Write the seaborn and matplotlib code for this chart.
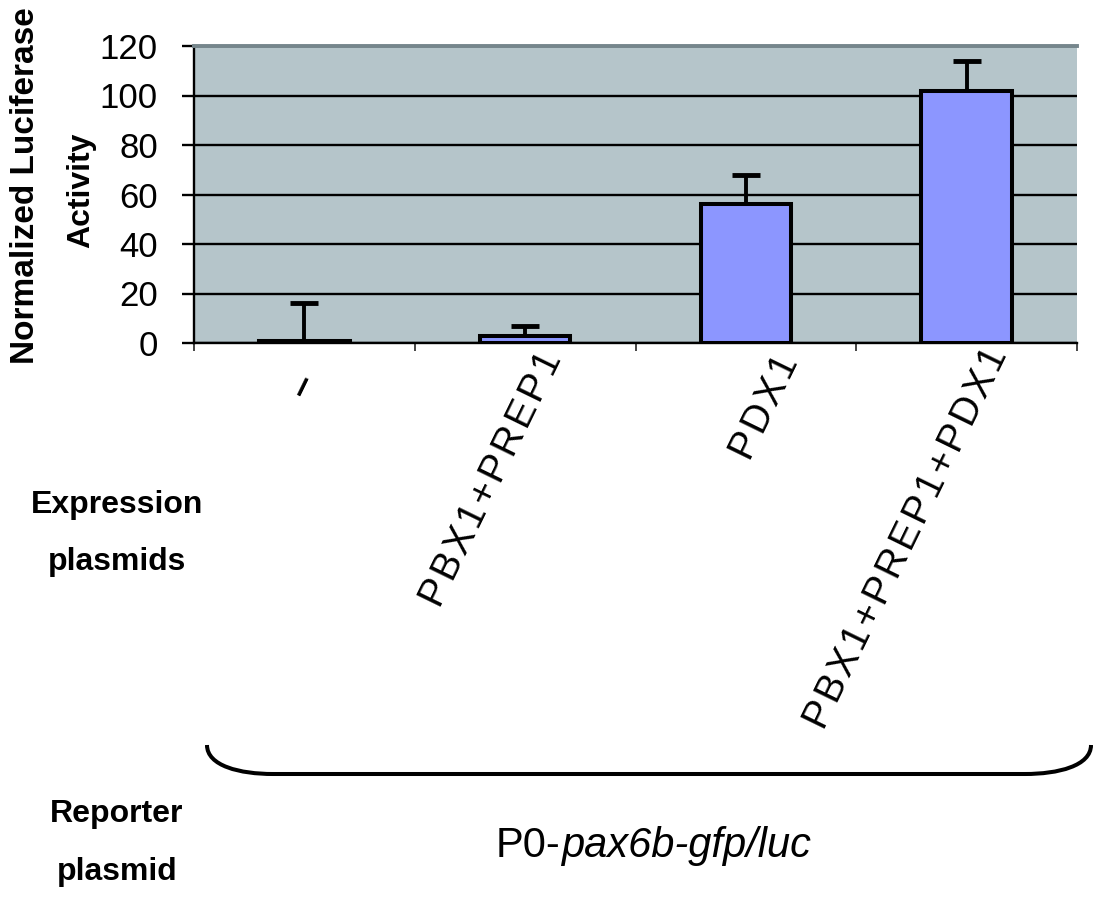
import numpy as np
import pandas as pd
import matplotlib
matplotlib.use("Agg")
import matplotlib.pyplot as plt
import matplotlib.transforms as mtransforms
from matplotlib.path import Path
from matplotlib.patches import PathPatch
import seaborn as sns

# data
conditions = ["-", "PBX1+PREP1", "PDX1", "PBX1+PREP1+PDX1"]
activity = [1, 3, 56, 102]
activity_err = [15, 4, 12, 12]
y_ticks = [0, 20, 40, 60, 80, 100, 120]

df = pd.DataFrame({"condition": conditions, "activity": activity})

sns.set_style("white")
plt.rcParams["font.family"] = ["Liberation Sans", "DejaVu Sans"]
plt.rcParams["text.color"] = "black"

W, H = 1098, 902
fig = plt.figure(figsize=(W / 100, H / 100), dpi=100)
ax = fig.add_axes([194 / W, 1 - 343 / H, (1077 - 194) / W, (343 - 46) / H])
ax.set_facecolor("#B5C5CA")

sns.barplot(data=df, x="condition", y="activity", color="#8C96FF",
            edgecolor="black", linewidth=2.9, width=0.41, errorbar=None,
            saturation=1, ax=ax, zorder=3)

# upper-only error bars
xs = np.arange(len(conditions))
ax.errorbar(xs, activity, yerr=[np.zeros(len(activity)), activity_err],
            fmt="none", ecolor="black", elinewidth=2.8, capsize=10,
            capthick=3.5, zorder=2)

ax.set_ylim(0, 120)
ax.set_xlim(-0.5, len(conditions) - 0.5)
ax.set_yticks(y_ticks)
ax.yaxis.grid(True, color="black", linewidth=1.7, zorder=0)
ax.set_axisbelow(True)
ax.tick_params(axis="y", labelsize=25, length=9, width=1.7, direction="out",
               left=True, pad=17, colors="black")

# excel-like spaced tick labels
hair = "\u200a"
spaced = [hair.join(list(c)) for c in conditions]
spaced[0] = "\u2013"
ax.set_xticks(xs)
ax.set_xticklabels(spaced, rotation=64, ha="right", va="center",
                   rotation_mode="anchor", fontsize=28, color="black")
ax.tick_params(axis="x", length=0, pad=8, colors="black")
shift_px = [(4, -22), (28, 0), (44, -4), (32, 4)]
for lab, (dx, dy) in zip(ax.get_xticklabels(), shift_px):
    lab.set_transform(lab.get_transform() +
                      mtransforms.ScaledTranslation(dx / 100, dy / 100,
                                                    fig.dpi_scale_trans))
ax.get_xticklabels()[0].set_fontweight("bold")
ax.set_xticks(np.arange(-0.5, len(conditions)), minor=True)
ax.tick_params(axis="x", which="minor", length=6, width=1.2, bottom=True)
ax.set_xlabel("")
ax.set_ylabel("")

for side in ["left", "bottom"]:
    ax.spines[side].set_color("black")
    ax.spines[side].set_linewidth(1.7)
ax.spines["top"].set_color("#76868C")
ax.spines["top"].set_linewidth(2.8)
ax.spines["right"].set_visible(False)


def fx(px):
    return px / W


def fy(py):
    return 1 - py / H


# side labels
bold = dict(fontsize=23, fontweight="bold", color="black")
fig.text(fx(34), fy(186), "Normalized Luciferase", rotation=90,
         rotation_mode="anchor", ha="center", va="baseline",
         fontsize=24, fontweight="bold", color="black")
fig.text(fx(89), fy(190), "Activity", rotation=90,
         rotation_mode="anchor", ha="center", va="baseline", **bold)
fig.text(fx(117), fy(513), "Expression", ha="center", va="baseline", **bold)
fig.text(fx(117), fy(570), "plasmids", ha="center", va="baseline", **bold)
fig.text(fx(117), fy(822), "Reporter", ha="center", va="baseline", **bold)
fig.text(fx(117), fy(880), "plasmid", ha="center", va="baseline", **bold)

# brace under the labels
verts = [(fx(207), fy(745)), (fx(207), fy(766)), (fx(240), fy(774)), (fx(273), fy(774)),
         (fx(1025), fy(774)),
         (fx(1058), fy(774)), (fx(1091), fy(766)), (fx(1091), fy(745))]
codes = [Path.MOVETO, Path.CURVE4, Path.CURVE4, Path.CURVE4,
         Path.LINETO, Path.CURVE4, Path.CURVE4, Path.CURVE4]
fig.add_artist(PathPatch(Path(verts, codes), transform=fig.transFigure,
                         fill=False, edgecolor="black", linewidth=2.9))

# reporter plasmid name, upright prefix then italic gene part
renderer = fig.canvas.get_renderer()
t0 = fig.text(fx(496), fy(857), "P0-", ha="left", va="baseline", fontsize=30)
bb = t0.get_window_extent(renderer=renderer)
fig.text(bb.x1 / W, fy(857), "pax6b-gfp/luc", ha="left",
         va="baseline", fontsize=30, style="italic")

fig.savefig("out.png", dpi=100)
